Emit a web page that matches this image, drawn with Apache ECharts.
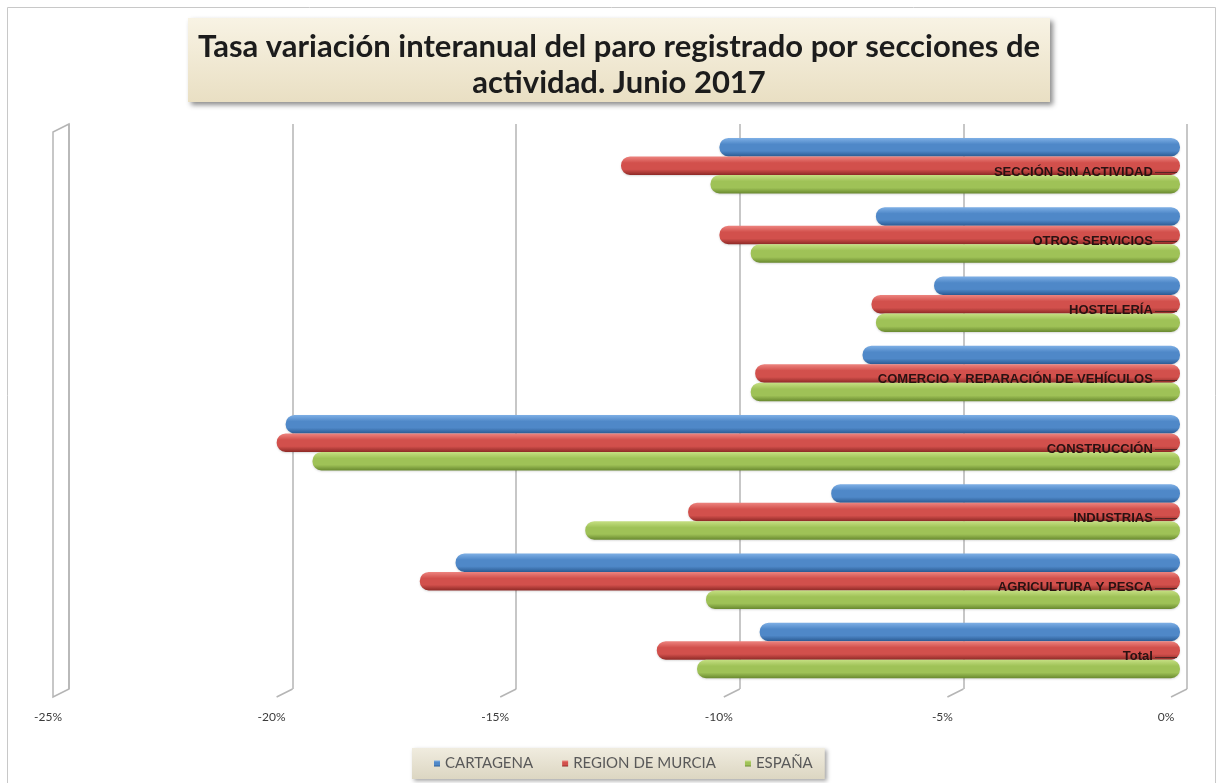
<!DOCTYPE html>
<html><head><meta charset="utf-8">
<script src="https://cdn.jsdelivr.net/npm/echarts@6/dist/echarts.min.js"></script>
<style>html,body{margin:0;padding:0;background:#fff}#c{width:1223px;height:783px}</style>
</head><body><div id="c"></div>
<script>
// ---- data (top-to-bottom order as in the picture) ----
const categories = ['SECCIÓN SIN ACTIVIDAD','OTROS SERVICIOS','HOSTELERÍA','COMERCIO Y REPARACIÓN DE VEHÍCULOS','CONSTRUCCIÓN','INDUSTRIAS','AGRICULTURA Y PESCA','Total'];
const cartagena    = [-10.3, -6.8, -5.5, -7.1, -20.0, -7.8, -16.2, -9.4];
const regionMurcia = [-12.5, -10.3, -6.9, -9.5, -20.2, -11.0, -17.0, -11.7];
const espana       = [-10.5, -9.6, -6.8, -9.6, -19.4, -13.3, -10.6, -10.8];
const seriesNames  = ['CARTAGENA', 'REGION DE MURCIA', 'ESPAÑA'];
const tickValues   = [-25, -20, -15, -10, -5, 0];
const titleLines   = ['Tasa variación interanual del paro registrado por secciones de', 'actividad. Junio 2017'];

const chart = echarts.init(document.getElementById('c'), null, {renderer: 'canvas'});

function cyl(top, mid, bot) {
  return new echarts.graphic.LinearGradient(0, 0, 0, 1, [
    {offset: 0, color: top}, {offset: 0.35, color: mid}, {offset: 0.7, color: mid}, {offset: 1, color: bot}
  ]);
}
const fills = [
  cyl('#7fb0e6', '#4f88c8', '#2c5c94'),
  cyl('#ee8580', '#d2504c', '#8f2a27'),
  cyl('#c6e083', '#9fc257', '#6a8a30')
];
const legendColors = ['#4f88c8', '#d2504c', '#b7bf78'];
const seriesData = [cartagena, regionMurcia, espana];

const series = seriesNames.map((name, i) => ({
  name: name,
  type: 'bar',
  xAxisIndex: 0,
  yAxisIndex: 0,
  barWidth: 18.5,
  barGap: '0%',
  data: seriesData[i],
  itemStyle: {color: fills[i], borderRadius: 9, shadowColor: 'rgba(0,0,0,0.15)', shadowBlur: 2, shadowOffsetY: 1},
  emphasis: {disabled: true}
}));

chart.setOption({
  animation: false,
  backgroundColor: '#ffffff',
  color: legendColors,
  grid: [
    {left: 62, right: 43, top: 131, bottom: 98},
    {left: 69, right: 36, top: 124, bottom: 94}
  ],
  xAxis: [
    {
      type: 'value', gridIndex: 0, min: -25, max: 0, interval: 5,
      splitLine: {show: false}, axisLine: {show: false}, axisTick: {show: false},
      axisLabel: {formatter: v => v + '%', margin: 26, color: '#3a3a3a', fontSize: 12,
        fontFamily: 'Lato', padding: [0, 28, 0, 0]}
    },
    {
      type: 'value', gridIndex: 1, min: -25, max: 0, interval: 5,
      axisLabel: {show: false}, axisLine: {show: false}, axisTick: {show: false},
      splitLine: {show: true, lineStyle: {color: '#b5b5b5', width: 1.5}}
    }
  ],
  yAxis: [
    {
      type: 'category', gridIndex: 0, data: categories, inverse: true, position: 'right', z: 10,
      axisLine: {show: false},
      axisTick: {show: false},
      axisLabel: {inside: true, margin: 3, verticalAlign: 'top',
        formatter: v => '{t|' + v + '}{d|\u2009——}',
        rich: {
          t: {fontWeight: 'bold', fontSize: 13, color: '#2a1212', fontFamily: 'Liberation Sans', verticalAlign: 'middle'},
          d: {fontSize: 11, color: '#3a2020', fontFamily: 'Liberation Sans', verticalAlign: 'middle'}
        }}
    },
    {type: 'value', gridIndex: 1, show: false}
  ],
  legend: {
    data: seriesNames,
    left: 412, top: 748,
    padding: [8, 12, 8, 22],
    itemWidth: 6, itemHeight: 6, itemGap: 29,
    icon: 'rect',
    textStyle: {fontSize: 15, color: '#595959', fontFamily: 'Lato'},
    backgroundColor: new echarts.graphic.LinearGradient(0, 0, 0, 1, [
      {offset: 0, color: '#f0ecdf'}, {offset: 1, color: '#dcd6c2'}]),
    shadowColor: 'rgba(0,0,0,0.35)', shadowBlur: 4, shadowOffsetX: 2, shadowOffsetY: 2,
    selectedMode: false
  },
  series: series
});

// decorations (frame, title box, left wall and floor edges) placed from the axes
function decorate() {
  const y0top = 124, y0bot = 689, dx = 16, dy = 8;
  const els = [];
  els.push({type: 'rect', z: -10, shape: {x: 7.5, y: 7.5, width: 1208, height: 800},
    style: {fill: 'none', stroke: '#c8c8c8', lineWidth: 1}});
  // title box
  els.push({type: 'rect', z: 5, shape: {x: 188, y: 18, width: 862, height: 84},
    style: {fill: new echarts.graphic.LinearGradient(0, 0, 0, 1, [
      {offset: 0, color: '#f8f3e4'}, {offset: 1, color: '#e9dfc3'}]),
      shadowColor: 'rgba(0,0,0,0.45)', shadowBlur: 5, shadowOffsetX: 3, shadowOffsetY: 3}});
  els.push({type: 'text', z: 6, x: 619, y: 65,
    style: {text: titleLines.join('\n'), fill: '#1c1c1c', font: 'bold 31px Lato',
      align: 'center', verticalAlign: 'middle', lineHeight: 36}});
  // left wall
  const xl = chart.convertToPixel({xAxisIndex: 1}, tickValues[0]);
  els.push({type: 'polygon', z: 1, shape: {points: [[xl, y0top], [xl - dx, y0top + dy], [xl - dx, y0bot + dy], [xl, y0bot]]},
    style: {fill: 'none', stroke: '#b5b5b5', lineWidth: 1.5}});
  // floor edges under each gridline
  tickValues.slice(1).forEach(v => {
    const x = chart.convertToPixel({xAxisIndex: 1}, v);
    els.push({type: 'line', z: 1, shape: {x1: x, y1: y0bot, x2: x - dx, y2: y0bot + dy},
      style: {stroke: '#b5b5b5', lineWidth: 1.5}});
  });
  chart.setOption({graphic: {elements: els}});
}
decorate();
</script>
</body></html>
